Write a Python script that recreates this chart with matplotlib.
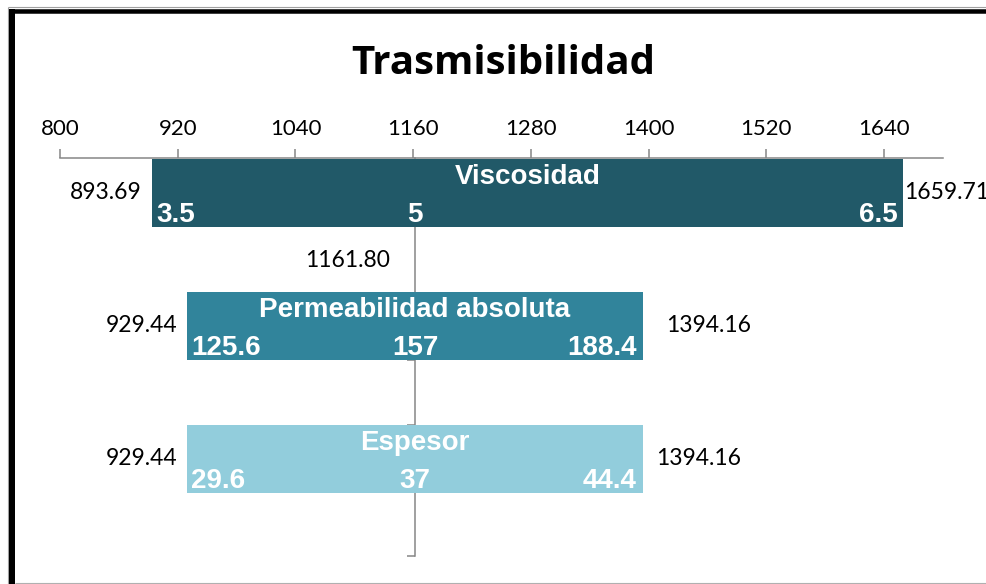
import matplotlib.pyplot as plt
from matplotlib.lines import Line2D

# tornado de sensibilidad para la trasmisibilidad
factors = ['Viscosidad', 'Permeabilidad absoluta', 'Espesor']
low_in = [3.5, 125.6, 29.6]
base_in = [5, 157, 37]
high_in = [6.5, 188.4, 44.4]
low_out = [893.69, 929.44, 929.44]
high_out = [1659.71, 1394.16, 1394.16]
base_out = 1161.80
x_ticks = [800, 920, 1040, 1160, 1280, 1400, 1520, 1640]

colors = ['#215968', '#31849B', '#92CDDC']
right_gap = [1, 23, 13]  # px between bar end and the right result label
grey = '#868686'
PT = 0.72  # points per pixel at dpi 100

W, H = 987, 584
fig = plt.figure(figsize=(W / 100, H / 100), dpi=100)
ax = fig.add_axes([60 / W, 1 - 556 / H, 883 / W, 398 / H])

h = 0.51
ys = list(range(len(factors)))
widths = [b - a for a, b in zip(low_out, high_out)]
ax.barh(ys, widths, left=low_out, height=h, color=colors, zorder=2)

ax.set_xlim(800, 1700)
ax.set_ylim(2.73, -0.263)

# value axis on top
ax.xaxis.tick_top()
ax.set_xticks(x_ticks)
ax.tick_params(axis='x', direction='out', length=6.5, width=1.1, color=grey,
               pad=7.5, labelsize=16, labelcolor='#000000')
for lab in ax.get_xticklabels():
    lab.set_family('Lato')

for s in ['right', 'bottom']:
    ax.spines[s].set_visible(False)
ax.spines['top'].set_color(grey)
ax.spines['top'].set_linewidth(1.1)

# category axis crossing at the base result
ax.spines['left'].set_position(('data', base_out))
ax.spines['left'].set_color(grey)
ax.spines['left'].set_linewidth(1.1)
ax.spines['left'].set_zorder(0.5)
ax.set_axisbelow(True)
ax.set_yticks([ys[1] + h / 2, ys[2] - h / 2, 2.73])
ax.set_yticklabels([])
ax.tick_params(axis='y', direction='out', length=5.8, width=1.1, color=grey)

bold = dict(family='Liberation Sans', fontweight='bold', fontsize=20, color='white')
plain = dict(family='Lato', fontsize=16.5, color='#000000')

for y, name, a, m, b, lo, hi, gap in zip(ys, factors, low_in, base_in, high_in,
                                         low_out, high_out, right_gap):
    top = y - h / 2
    bot = y + h / 2
    ax.annotate(name, ((lo + hi) / 2, top), xytext=(0, -5 * PT), textcoords='offset points',
                ha='center', va='top', zorder=3, **bold)
    ax.annotate(f'{a:g}', (lo, bot), xytext=(4 * PT, 5 * PT), textcoords='offset points',
                ha='left', va='baseline', zorder=3, **bold)
    ax.annotate(f'{m:g}', (base_out, bot), xytext=(0, 5 * PT), textcoords='offset points',
                ha='center', va='baseline', zorder=3, **bold)
    ax.annotate(f'{b:g}', (hi, bot), xytext=(-6 * PT, 5 * PT), textcoords='offset points',
                ha='right', va='baseline', zorder=3, **bold)
    ax.annotate(f'{lo:.2f}', (lo, y), xytext=(-10 * PT, 0), textcoords='offset points',
                ha='right', va='center', annotation_clip=False, **plain)
    ax.annotate(f'{hi:.2f}', (hi, y), xytext=(gap * PT, 0), textcoords='offset points',
                ha='left', va='center', annotation_clip=False, **plain)

ax.annotate(f'{base_out:.2f}', (base_out, 0.51), xytext=(-25 * PT, 0),
            textcoords='offset points', ha='right', va='center', **plain)

fig.text(503 / W, 1 - 74 / H, 'Trasmisibilidad', ha='center', va='baseline',
         fontsize=29, fontweight='bold', family='Open Sans')

# marco del gráfico
def fline(x0, y0, x1, y1, c, lw):
    fig.add_artist(Line2D([x0 / W, x1 / W], [1 - y0 / H, 1 - y1 / H],
                          transform=fig.transFigure, color=c, lw=lw,
                          solid_capstyle='butt'))

fline(8, 7, W, 7, '#a0a0a0', 0.8)
fline(8, 7, 8, H, '#a0a0a0', 0.8)
fline(15, 583, W, 583, '#b0b0b0', 0.8)
fline(9, 11, W, 11, '#000000', 4.5 * PT)
fline(12, 9, 12, H, '#000000', 6 * PT)

fig.savefig('out.png', dpi=100)
